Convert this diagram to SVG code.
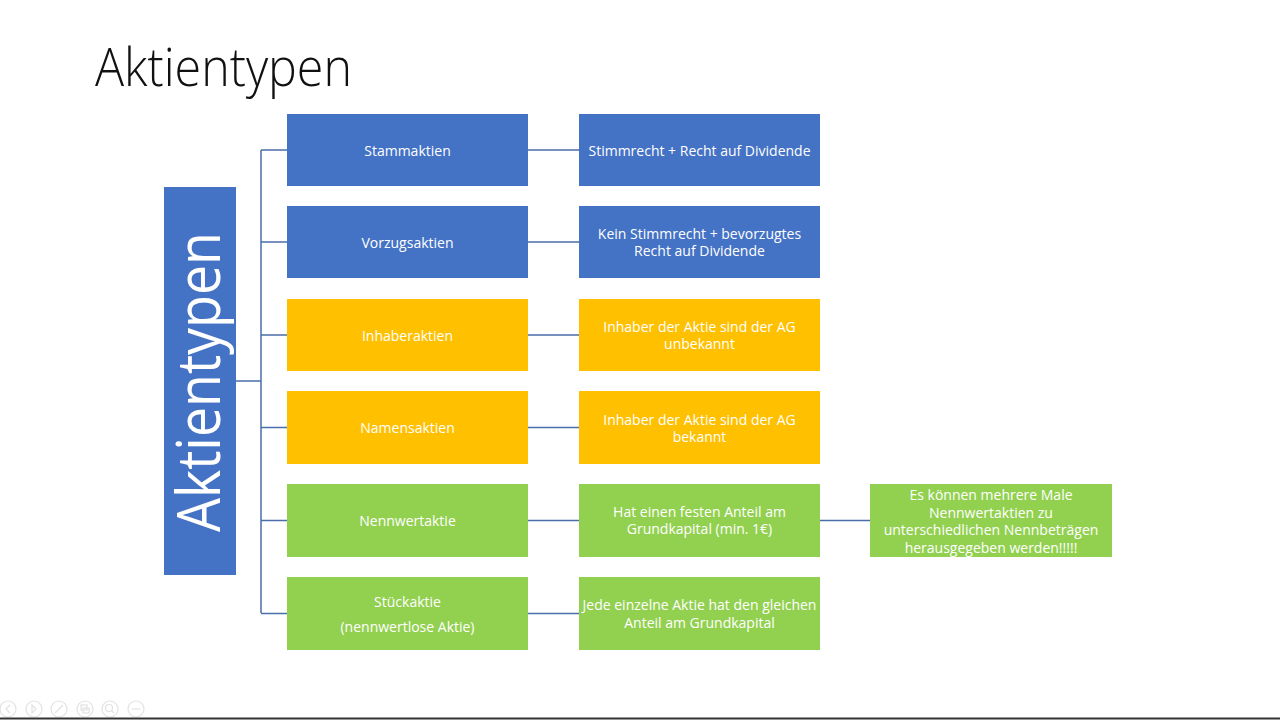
<svg xmlns="http://www.w3.org/2000/svg" width="1280" height="720" viewBox="0 0 1280 720">
  <style>
    .blue { fill: #4472C4; }
    .yellow { fill: #FFC000; }
    .green { fill: #92D050; }
    .lbl { font-family: "Open Sans", "Liberation Sans", sans-serif; font-size: 14px; fill: #FFFFFF; text-anchor: middle; dominant-baseline: central; }
    .conn { stroke: #4A6EA9; stroke-width: 1.5; fill: none; }
    .ui { stroke: #E2E2E2; stroke-width: 1.2; fill: none; }
  </style>
  <rect x="0" y="0" width="1280" height="720" fill="#FFFFFF"/>
  <text x="95" y="86" font-family="Open Sans, Liberation Sans, sans-serif" font-weight="300" font-size="53" fill="#111111" textLength="257" lengthAdjust="spacingAndGlyphs">Aktientypen</text>

  <g id="connectors">
    <path class="conn" d="M236 381 H261 M261 150 V613 M261 150 H287 M261 242 H287 M261 335 H287 M261 427.5 H287 M261 520.5 H287 M261 613.5 H287"/>
    <path class="conn" d="M528 150 H579 M528 242 H579 M528 335 H579 M528 427.5 H579 M528 520.5 H579 M528 613.5 H579 M820 520.5 H870"/>
  </g>

  <g id="root">
    <rect class="blue" x="164" y="187" width="72" height="388"/>
    <text transform="translate(220,382) rotate(-90)" x="0" y="0" font-family="Open Sans, Liberation Sans, sans-serif" font-size="60" fill="#FFFFFF" text-anchor="middle" textLength="300" lengthAdjust="spacingAndGlyphs">Aktientypen</text>
  </g>

  <g id="stammaktien">
    <rect class="blue" x="287" y="114" width="241" height="72"/>
    <text class="lbl" x="407.5" y="150">Stammaktien</text>
  </g>
  <g id="stammaktien-info">
    <rect class="blue" x="579" y="114" width="241" height="72"/>
    <text class="lbl" x="699.5" y="150">Stimmrecht + Recht auf Dividende</text>
  </g>

  <g id="vorzugsaktien">
    <rect class="blue" x="287" y="206" width="241" height="72"/>
    <text class="lbl" x="407.5" y="242">Vorzugsaktien</text>
  </g>
  <g id="vorzugsaktien-info">
    <rect class="blue" x="579" y="206" width="241" height="72"/>
    <text class="lbl" x="699.5" y="233">Kein Stimmrecht + bevorzugtes</text>
    <text class="lbl" x="699.5" y="250.5">Recht auf Dividende</text>
  </g>

  <g id="inhaberaktien">
    <rect class="yellow" x="287" y="299" width="241" height="72"/>
    <text class="lbl" x="407.5" y="335">Inhaberaktien</text>
  </g>
  <g id="inhaberaktien-info">
    <rect class="yellow" x="579" y="299" width="241" height="72"/>
    <text class="lbl" x="699.5" y="326">Inhaber der Aktie sind der AG</text>
    <text class="lbl" x="699.5" y="343.5">unbekannt</text>
  </g>

  <g id="namensaktien">
    <rect class="yellow" x="287" y="391" width="241" height="73"/>
    <text class="lbl" x="407.5" y="427.5">Namensaktien</text>
  </g>
  <g id="namensaktien-info">
    <rect class="yellow" x="579" y="391" width="241" height="73"/>
    <text class="lbl" x="699.5" y="419">Inhaber der Aktie sind der AG</text>
    <text class="lbl" x="699.5" y="436.5">bekannt</text>
  </g>

  <g id="nennwertaktie">
    <rect class="green" x="287" y="484" width="241" height="73"/>
    <text class="lbl" x="407.5" y="520.5">Nennwertaktie</text>
  </g>
  <g id="nennwertaktie-info">
    <rect class="green" x="579" y="484" width="241" height="73"/>
    <text class="lbl" x="699.5" y="511">Hat einen festen Anteil am</text>
    <text class="lbl" x="699.5" y="528.5">Grundkapital (min. 1€)</text>
  </g>
  <g id="nennwertaktie-extra">
    <rect class="green" x="870" y="484" width="242" height="73"/>
    <text class="lbl" x="991" y="494.5">Es können mehrere Male</text>
    <text class="lbl" x="991" y="512">Nennwertaktien zu</text>
    <text class="lbl" x="991" y="529.5">unterschiedlichen Nennbeträgen</text>
    <text class="lbl" x="991" y="547">herausgegeben werden!!!!!</text>
  </g>

  <g id="stueckaktie">
    <rect class="green" x="287" y="577" width="241" height="73"/>
    <text class="lbl" x="407.5" y="601">Stückaktie</text>
    <text class="lbl" x="407.5" y="626">(nennwertlose Aktie)</text>
  </g>
  <g id="stueckaktie-info">
    <rect class="green" x="579" y="577" width="241" height="73"/>
    <text class="lbl" x="699.5" y="604.5">Jede einzelne Aktie hat den gleichen</text>
    <text class="lbl" x="699.5" y="622">Anteil am Grundkapital</text>
  </g>

  <g id="controls">
    <circle class="ui" cx="8" cy="709" r="8"/>
    <path class="ui" d="M10 705 L6 709 L10 713"/>
    <circle class="ui" cx="34" cy="709" r="8"/>
    <path class="ui" d="M32 705 L36 709 L32 713 Z"/>
    <circle class="ui" cx="59" cy="709" r="8"/>
    <path class="ui" d="M55 713 L63 705"/>
    <circle class="ui" cx="85" cy="709" r="8"/>
    <rect class="ui" x="81" y="705" width="6" height="5"/>
    <rect class="ui" x="83" y="708" width="6" height="5"/>
    <circle class="ui" cx="110" cy="709" r="8"/>
    <circle class="ui" cx="109" cy="708" r="3.5"/>
    <path class="ui" d="M111.5 710.5 L114 713"/>
    <circle class="ui" cx="136" cy="709" r="8"/>
    <path class="ui" d="M132 709 H140"/>
  </g>
  <line x1="0" y1="718.5" x2="1280" y2="718.5" stroke="#333333" stroke-width="2"/>
</svg>
